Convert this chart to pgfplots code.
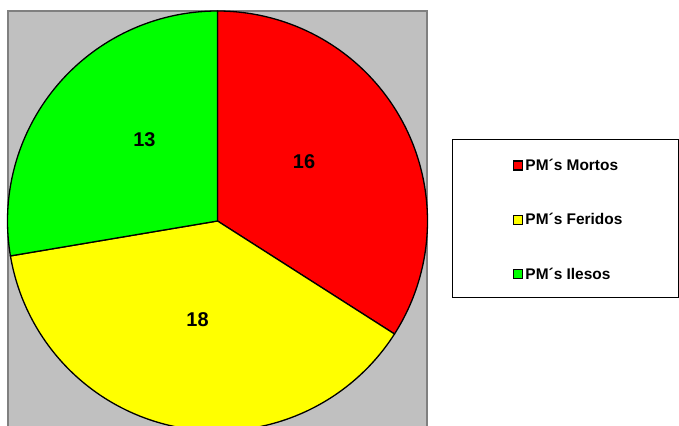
\documentclass[border=0pt]{standalone}
\usepackage{pgfplots}
\pgfplotsset{compat=1.18}
\usepackage{fontspec}
\setmainfont{Liberation Sans}
\definecolor{bggray}{HTML}{C0C0C0}
\definecolor{edgegray}{HTML}{808080}
\definecolor{pieRed}{HTML}{FF0000}
\definecolor{pieYellow}{HTML}{FFFF00}
\definecolor{pieGreen}{HTML}{00FF00}
\begin{document}
\begin{tikzpicture}
\def\vA{16}\def\vB{18}\def\vC{13}
\pgfmathsetmacro\tot{\vA+\vB+\vC}
\pgfmathsetmacro\aA{90-360*\vA/\tot}
\pgfmathsetmacro\aB{\aA-360*\vB/\tot}
\pgfmathsetmacro\aC{\aB-360*\vC/\tot}
\def\cx{217.5}\def\cy{205}\def\rr{210}
\clip (0,0) rectangle (679bp,426bp);
\begin{axis}[
  at={(0,0)}, anchor=south west,
  scale only axis, width=679bp, height=426bp,
  xmin=0, xmax=679, ymin=0, ymax=426,
  hide axis, clip=false,
  legend cell align=left,
  legend image code/.code={\draw[#1] (0bp,-4.5bp) rectangle (9bp,4.5bp);},
  legend style={draw=none, fill=none, at={(axis cs:510,271)}, anchor=north west,
    font=\bfseries\fontsize{15.5}{17}\selectfont, row sep=37.5bp,
    /tikz/every even column/.append style={column sep=0bp}},
]
\fill[bggray, draw=edgegray, line width=2bp] (axis cs:8,-10) rectangle (axis cs:427.3,415);
\draw[black, line width=0.8bp, fill=white] (axis cs:452,287) rectangle (axis cs:678.5,129);
\addplot[fill=pieRed, draw=black, line width=1.3bp, domain=90:\aA, samples=120]
  ({\cx+\rr*cos(x)}, {\cy+\rr*sin(x)}) -- (axis cs:\cx,\cy) -- cycle;
\addlegendentry{PM´s Mortos}
\addplot[fill=pieYellow, draw=black, line width=1.3bp, domain=\aA:\aB, samples=120]
  ({\cx+\rr*cos(x)}, {\cy+\rr*sin(x)}) -- (axis cs:\cx,\cy) -- cycle;
\addlegendentry{PM´s Feridos}
\addplot[fill=pieGreen, draw=black, line width=1.3bp, domain=\aB:\aC, samples=120]
  ({\cx+\rr*cos(x)}, {\cy+\rr*sin(x)}) -- (axis cs:\cx,\cy) -- cycle;
\addlegendentry{PM´s Ilesos}
\node[font=\bfseries\fontsize{20}{22}\selectfont] at (axis cs:304,264) {16};
\node[font=\bfseries\fontsize{20}{22}\selectfont] at (axis cs:144.5,286) {13};
\node[font=\bfseries\fontsize{20}{22}\selectfont] at (axis cs:197.5,106) {18};
\end{axis}
\end{tikzpicture}
\end{document}
